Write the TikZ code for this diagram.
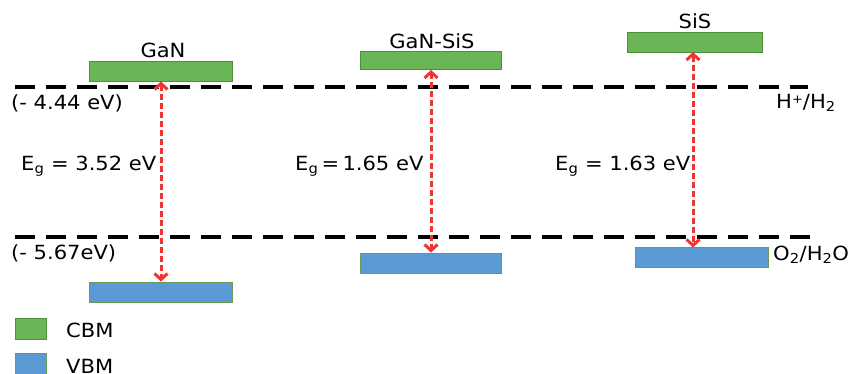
\documentclass[tikz,border=0pt]{standalone}
\usepackage{fontspec}
\setmainfont{DejaVu Sans}[FakeStretch=1.08]
\usetikzlibrary{arrows.meta}
\definecolor{cbmfill}{HTML}{6AB556}
\definecolor{cbmline}{HTML}{4E8F3A}
\definecolor{vbmfill}{HTML}{5B9BD5}
\definecolor{vbmline}{HTML}{6A9A55}
\definecolor{gapred}{HTML}{F03434}
\tikzset{
  lvl/.style={draw=black, line width=4pt, dash pattern=on 20pt off 11pt},
  cbmbox/.style={draw=cbmline, fill=cbmfill, line width=0.9pt, inner sep=0pt},
  vbmbox/.style={draw=vbmline, fill=vbmfill, line width=0.9pt, inner sep=0pt},
  gap/.style={draw=gapred, line width=3pt, dash pattern=on 6pt off 3pt,
    {Straight Barb[length=6pt,width=13pt]}-{Straight Barb[length=6pt,width=13pt]}},
  txt/.style={inner sep=0pt, font=\fontsize{19.5}{22}\selectfont},
}
\begin{document}
\begin{tikzpicture}[x=1pt,y=-1pt]
\useasboundingbox (0,0) rectangle (850,373);
% reference levels
\coordinate (h1) at (15,87);
\coordinate (h2) at (808,87);
\coordinate (o1) at (15,237);
\coordinate (o2) at (817,237);
\draw[lvl] (h1) -- (h2);
\draw[lvl] (o1) -- (o2);
% band boxes
\node[cbmbox, minimum width=143pt, minimum height=20pt] (gancbm) at (161,71) {};
\node[vbmbox, minimum width=143pt, minimum height=20pt] (ganvbm) at (161,292) {};
\node[cbmbox, minimum width=141pt, minimum height=18pt] (hetcbm) at (431,60.5) {};
\node[vbmbox, minimum width=141pt, minimum height=20pt] (hetvbm) at (431,263) {};
\node[cbmbox, minimum width=135pt, minimum height=20pt] (siscbm) at (694.5,42) {};
\node[vbmbox, minimum width=133pt, minimum height=20pt] (sisvbm) at (701.5,257.5) {};
% titles
\node[txt] (tgan) at (163,50) {GaN};
\node[txt] (thet) at (432,41) {GaN-SiS};
\node[txt] (tsis) at (695,21) {SiS};
% gap arrows
\draw[gap] (gancbm.south) -- (ganvbm.north);
\draw[gap] (hetcbm.south) -- (hetvbm.north);
\coordinate (sistop) at (693,52);
\coordinate (sisbot) at (693,247.5);
\draw[gap] (sistop) -- (sisbot);
% labels
\node[txt, anchor=west] (l1) at (11,103) {(- 4.44 eV)};
\node[txt, anchor=west] (l2) at (11,253) {(- 5.67eV)};
\node[txt, anchor=west] (eg1) at (21,166) {E\textsubscript{g} = 3.52 eV};
\node[txt, anchor=west] (eg2) at (295,166) {E\textsubscript{g}\,=\,1.65 eV};
\node[txt, anchor=west] (eg3) at (555,166) {E\textsubscript{g} = 1.63 eV};
\node[txt, anchor=west] (hh) at (776,103) {H\raisebox{0.5ex}{\fontsize{12}{12}\selectfont +}/H\textsubscript{2}};
\node[txt, anchor=west] (oo) at (773,255) {O\textsubscript{2}/H\textsubscript{2}O};
% legend
\node[cbmbox, minimum width=31pt, minimum height=21pt] (legc) at (30.5,328.5) {};
\node[vbmbox, minimum width=31pt, minimum height=21pt] (legv) at (30.5,363.5) {};
\node[txt, anchor=west] (tc) at (66,330) {CBM};
\node[txt, anchor=west] (tv) at (66,366) {VBM};
\end{tikzpicture}
\end{document}
